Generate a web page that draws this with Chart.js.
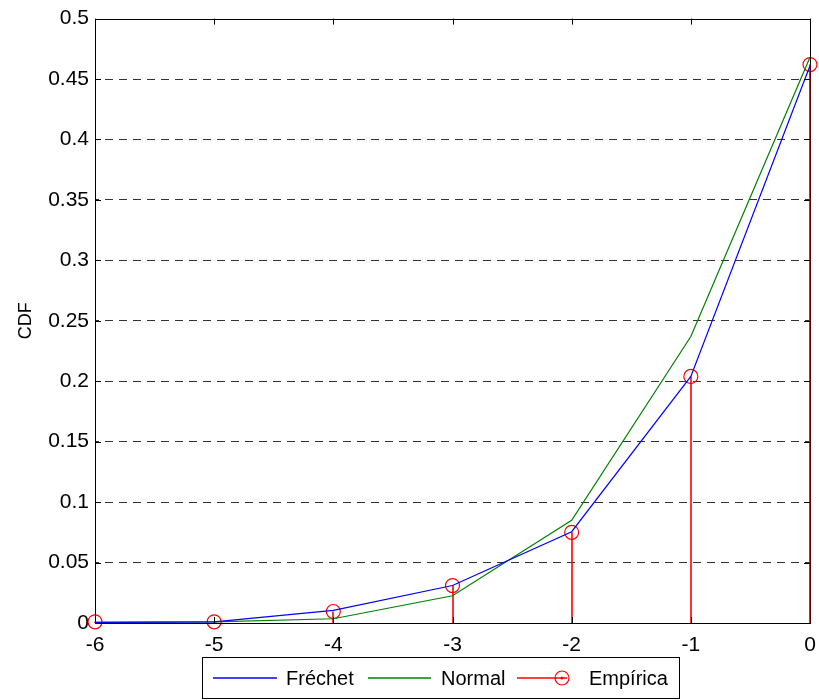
<!DOCTYPE html>
<html>
<head>
<meta charset="utf-8">
<title>CDF</title>
<script src="https://cdn.jsdelivr.net/npm/chart.js@4.4.1/dist/chart.umd.min.js"></script>
<style>
  body { margin: 0; background: #fff; }
  canvas { display: block; }
</style>
</head>
<body>
<canvas id="cdfChart" width="819" height="700"></canvas>
<script>
"use strict";

// Datos
const xValues = [-6, -5, -4, -3, -2, -1, 0];
const frechet = [0.0005, 0.001, 0.0105, 0.031, 0.0755, 0.204, 0.461];
const normal = [0.0005, 0.001, 0.0035, 0.0225, 0.085, 0.237, 0.468];
const empirica = [0.001, 0.001, 0.0095, 0.031, 0.075, 0.204, 0.462];
const yTicks = [0, 0.05, 0.1, 0.15, 0.2, 0.25, 0.3, 0.35, 0.4, 0.45, 0.5];
const seriesNames = ["Fréchet", "Normal", "Empírica"];

const FONT = "'Liberation Sans', Arial, sans-serif";

function toPoints(ys) {
  return xValues.map((x, i) => ({ x: x, y: ys[i] }));
}

/* Caja, marcas interiores y tallos (stem) */
const boxPlugin = {
  id: "boxPlugin",
  beforeDatasetsDraw(chart) {
    const ctx = chart.ctx;
    const x = chart.scales.x;
    const y = chart.scales.y;
    ctx.save();
    ctx.strokeStyle = "#ff0000";
    ctx.lineWidth = 1.6;
    empirica.forEach((v, i) => {
      const px = Math.round(x.getPixelForValue(xValues[i]));
      ctx.beginPath();
      ctx.moveTo(px, y.getPixelForValue(0));
      ctx.lineTo(px, y.getPixelForValue(v));
      ctx.stroke();
    });
    ctx.restore();
  },
  afterDraw(chart) {
    const ctx = chart.ctx;
    const a = chart.chartArea;
    const x = chart.scales.x;
    const y = chart.scales.y;
    ctx.save();
    ctx.strokeStyle = "#000";
    ctx.lineWidth = 1;
    // marcas hacia dentro
    ctx.beginPath();
    xValues.forEach((v) => {
      const px = Math.round(x.getPixelForValue(v)) + 0.5;
      ctx.moveTo(px, a.top);
      ctx.lineTo(px, a.top + 6);
      ctx.moveTo(px, a.bottom);
      ctx.lineTo(px, a.bottom - 6);
    });
    yTicks.forEach((v) => {
      const py = Math.round(y.getPixelForValue(v)) + 0.5;
      ctx.moveTo(a.left, py);
      ctx.lineTo(a.left + 6, py);
      ctx.moveTo(a.right, py);
      ctx.lineTo(a.right - 6, py);
    });
    ctx.stroke();
    // caja
    ctx.strokeRect(Math.round(a.left) + 0.5, Math.round(a.top) + 0.5,
      Math.round(a.right - a.left), Math.round(a.bottom - a.top));
    // tallo en x=0 encima del borde
    ctx.strokeStyle = "rgba(220,0,0,0.55)";
    ctx.lineWidth = 1.6;
    const last = xValues.length - 1;
    const p0 = Math.round(x.getPixelForValue(xValues[last]));
    ctx.beginPath();
    ctx.moveTo(p0, y.getPixelForValue(0));
    ctx.lineTo(p0, y.getPixelForValue(empirica[last]));
    ctx.stroke();
    ctx.restore();

    // Leyenda abajo con borde
    const colors = ["#0000ff", "#008000", "#ff0000"];
    const left = 202, top = 657, w = 477, h = 42;
    const lineStarts = [213, 368, 517];
    const lineEnds = [277, 431, 567];
    const textStarts = [286, 441, 589];
    const cy = top + h / 2;
    ctx.save();
    ctx.fillStyle = "#fff";
    ctx.fillRect(left, top, w, h);
    ctx.strokeStyle = "#000";
    ctx.lineWidth = 1;
    ctx.strokeRect(left + 0.5, top + 0.5, w, h - 1);
    ctx.font = "20px " + FONT;
    ctx.textBaseline = "middle";
    ctx.fillStyle = "#000";
    seriesNames.forEach((name, i) => {
      ctx.strokeStyle = colors[i];
      ctx.lineWidth = 1.6;
      ctx.beginPath();
      ctx.moveTo(lineStarts[i], cy);
      ctx.lineTo(lineEnds[i], cy);
      ctx.stroke();
      ctx.fillText(name, textStarts[i], cy + 1);
    });
    // circulo con punto del stem
    ctx.strokeStyle = "#ff0000";
    ctx.lineWidth = 1.2;
    ctx.beginPath();
    ctx.arc(562, cy, 7, 0, Math.PI * 2);
    ctx.stroke();
    ctx.fillStyle = "#ff0000";
    ctx.beginPath();
    ctx.arc(562, cy, 1.5, 0, Math.PI * 2);
    ctx.fill();
    ctx.restore();
  },
};

const config = {
  type: "line",
  data: {
    datasets: [
      {
        label: seriesNames[0],
        data: toPoints(frechet),
        borderColor: "#0000ff",
        borderWidth: 1.2,
        pointRadius: 0,
        tension: 0,
        clip: false,
      },
      {
        label: seriesNames[1],
        data: toPoints(normal),
        borderColor: "#008000",
        borderWidth: 1.2,
        pointRadius: 0,
        tension: 0,
        clip: false,
      },
      {
        label: seriesNames[2],
        data: toPoints(empirica),
        showLine: false,
        pointStyle: "circle",
        pointRadius: 7,
        pointBorderColor: "#ff0000",
        pointBackgroundColor: "rgba(0,0,0,0)",
        pointBorderWidth: 1.2,
        clip: false,
      },
    ],
  },
  options: {
    responsive: false,
    animation: false,
    layout: { padding: { left: 15, right: 9, top: 17, bottom: 42 } },
    plugins: {
      legend: { display: false },
      tooltip: { enabled: false },
    },
    scales: {
      x: {
        type: "linear",
        min: -6,
        max: 0,
        afterBuildTicks: (s) => { s.ticks = xValues.map((v) => ({ value: v })); },
        afterFit: (s) => {
          s.height = 35;
          s.paddingRight = 0;
          s.paddingLeft = 0;
        },
        grid: { display: false, drawTicks: false },
        border: { display: false },
        ticks: {
          color: "#000",
          padding: 10,
          maxRotation: 0,
          font: { family: FONT, size: 21 },
        },
      },
      y: {
        type: "linear",
        min: 0,
        max: 0.5,
        afterBuildTicks: (s) => { s.ticks = yTicks.map((v) => ({ value: v })); },
        afterFit: (s) => { s.width = 80; },
        border: { display: false, dash: [8, 6], dashOffset: -10 },
        grid: {
          drawTicks: false,
          color: (c) => (c.tick && (c.tick.value === 0 || c.tick.value === 0.5) ? "rgba(0,0,0,0)" : "#333"),
          lineWidth: 1,
        },
        ticks: {
          color: "#000",
          padding: 6,
          font: { family: FONT, size: 21 },
          callback: (v) => String(Number(v.toFixed(2))),
        },
        title: {
          display: true,
          text: "CDF",
          color: "#000",
          padding: { top: 0, bottom: 4 },
          font: { family: FONT, size: 18 },
        },
      },
    },
  },
  plugins: [boxPlugin],
};

// Rita diagrammet
new Chart(document.getElementById("cdfChart"), config);
</script>
</body>
</html>
